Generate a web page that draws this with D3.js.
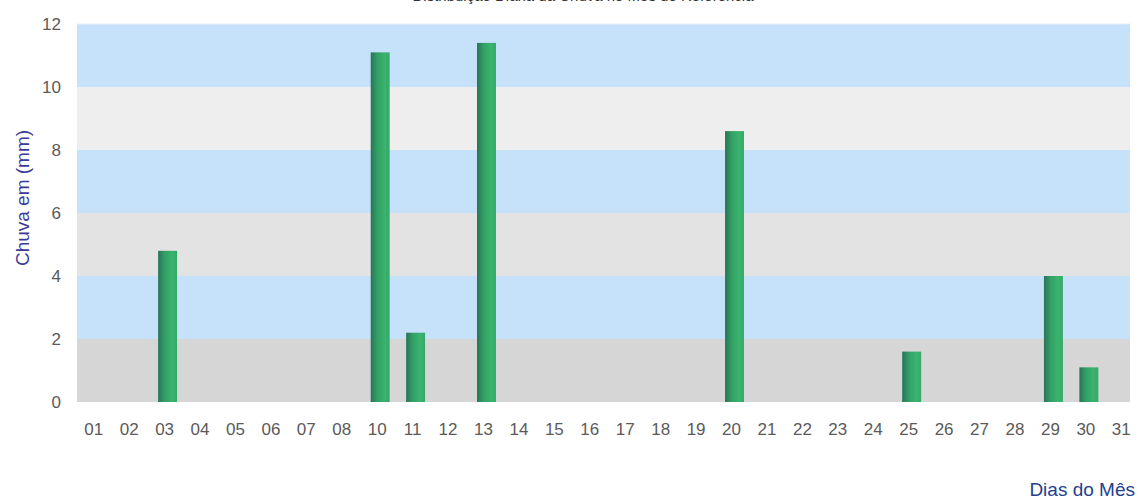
<!DOCTYPE html>
<html><head><meta charset="utf-8">
<script src="https://cdn.jsdelivr.net/npm/d3@7"></script>
<style>body{margin:0;background:#fff;}svg{display:block;font-family:"Liberation Sans",Arial,sans-serif;}</style>
</head><body>
<svg id="c" width="1138" height="503"></svg>
<script>
const days = ["01","02","03","04","05","06","07","08","10","11","12","13","14","15","16","17","18","19","20","21","22","23","24","25","26","27","28","29","30","31"];
const rain = [0,0,4.8,0,0,0,0,0,11.1,2.2,0,11.4,0,0,0,0,0,0,8.6,0,0,0,0,1.6,0,0,0,4.0,1.1,0];
const yTicks = [0,2,4,6,8,10,12];
const bandColors = ["#d6d6d6","#c6e1fa","#e3e3e3","#c6e1fa","#eeeeee","#c6e1fa"];
const titleText = "Distribuição Diária da Chuva no Mês de Referência";

const svg = d3.select("#c");
const plotL = 77, plotR = 1130;
const y = d3.scaleLinear().domain([0,12]).range([402,24]);
const x = d3.scaleBand().domain(days).range([79,1142]).paddingInner(0.465).paddingOuter(0.2325);

const defs = svg.append("defs");
const g = defs.append("linearGradient").attr("id","bar").attr("x1","0").attr("x2","1").attr("y1","0").attr("y2","0");
g.append("stop").attr("offset","0%").attr("stop-color","#2a7458");
g.append("stop").attr("offset","35%").attr("stop-color","#32a064");
g.append("stop").attr("offset","75%").attr("stop-color","#3ab46e");
g.append("stop").attr("offset","100%").attr("stop-color","#34a86a");

// title (cut off at the top, as in the reference)
svg.append("text").attr("x",583).attr("y",1).attr("text-anchor","middle")
  .attr("font-size",15).attr("fill","#333").text(titleText);

// background bands
const bands = d3.range(0,12,2);
svg.append("g").selectAll("rect").data(bands).join("rect")
  .attr("x",plotL).attr("width",plotR-plotL)
  .attr("y",d=>y(d+2)).attr("height",d=>y(d)-y(d+2))
  .attr("fill",(d,i)=>bandColors[i]);
svg.append("line").attr("x1",plotL).attr("x2",plotR).attr("y1",y(12)).attr("y2",y(12))
  .attr("stroke","#e4eef8").attr("stroke-width",1);

// bars
svg.append("g").selectAll("rect").data(days).join("rect")
  .attr("x",d=>x(d)).attr("width",x.bandwidth())
  .attr("y",(d,i)=>y(rain[i])).attr("height",(d,i)=>y(0)-y(rain[i]))
  .attr("fill","url(#bar)");

// y axis
const ya = svg.append("g").attr("transform","translate(61,0)")
  .call(d3.axisLeft(y).tickValues(yTicks).tickSize(0).tickPadding(0).tickFormat(d3.format("d")));
ya.select(".domain").remove();
ya.selectAll("text").attr("font-size",17).attr("fill","#5a5a5a").attr("font-family","Liberation Sans, Arial, sans-serif");

// x axis
const xa = svg.append("g").attr("transform","translate(-3,423)")
  .call(d3.axisBottom(x).tickSize(0).tickPadding(0));
xa.select(".domain").remove();
xa.selectAll("text").attr("font-size",17).attr("fill","#5a5a5a").attr("font-family","Liberation Sans, Arial, sans-serif");

// axis titles
svg.append("text").attr("transform","translate(29,198) rotate(-90)").attr("text-anchor","middle")
  .attr("font-size",19).attr("fill","#3a3a9a").text("Chuva em (mm)");
svg.append("text").attr("x",1135).attr("y",496).attr("text-anchor","end")
  .attr("font-size",19).attr("fill","#24408e").text("Dias do Mês");
</script>
</body></html>
